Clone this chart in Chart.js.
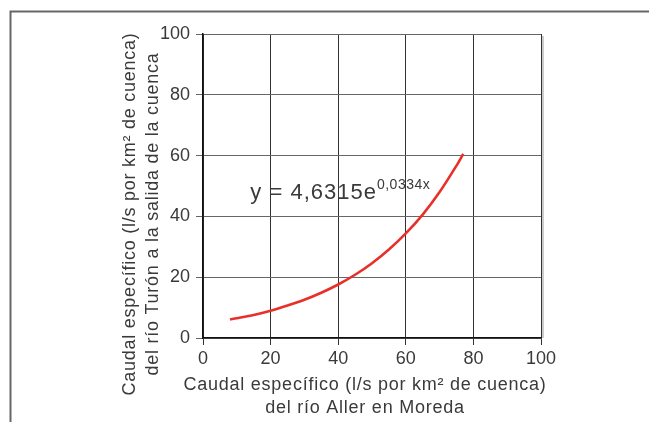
<!DOCTYPE html>
<html>
<head>
<meta charset="utf-8">
<script src="https://cdn.jsdelivr.net/npm/chart.js@4/dist/chart.umd.min.js"></script>
<style>
  html, body { margin: 0; padding: 0; background: #fff; }
  #wrap { width: 649px; height: 422px; position: relative; }
</style>
</head>
<body>
<div id="wrap"><canvas id="myChart" width="649" height="422"></canvas></div>
<script>
'use strict';

// values
let allerFlow = [8, 10, 15, 20, 25, 30, 35, 40, 45, 50, 55, 60, 65, 70, 75, 77];
let turonFlow = [6.1, 6.5, 7.6, 9.0, 10.7, 12.6, 14.9, 17.6, 20.8, 24.6, 29.1, 34.4, 40.6, 48.0, 56.7, 60.6];
let axisTicks = [0, 20, 40, 60, 80, 100];

let xTitle = ['Caudal específico (l/s por km² de cuenca)', 'del río Aller en Moreda'];
let yTitle = ['Caudal específico (l/s por km² de cuenca)', 'del río Turón a la salida de la cuenca'];
let equation = ['y = 4,6315e', '0,0334x'];

let points = [];
for (let i = 0; i < allerFlow.length; i++) {
  points.push({ x: allerFlow[i], y: turonFlow[i] });
}

const fontName = '"Liberation Sans", Arial, sans-serif';

// frame, axis titles and the equation
let extras = {
  id: 'extras',
  afterDraw(chart) {
    let ctx = chart.ctx;
    let area = chart.chartArea;
    ctx.save();

    // figure frame (top and left only)
    ctx.strokeStyle = '#666';
    ctx.lineWidth = 2;
    ctx.beginPath();
    ctx.moveTo(649, 11.5);
    ctx.lineTo(10.5, 11.5);
    ctx.lineTo(10.5, 422);
    ctx.stroke();

    // little shadow right of plot
    ctx.strokeStyle = '#bbb';
    ctx.lineWidth = 1.5;
    ctx.beginPath();
    ctx.moveTo(area.right + 2, area.top + 2);
    ctx.lineTo(area.right + 2, area.bottom);
    ctx.stroke();

    ctx.fillStyle = '#3a3a3a';
    ctx.font = '18px ' + fontName;
    ctx.letterSpacing = '0.75px';
    ctx.textAlign = 'center';
    ctx.textBaseline = 'middle';
    ctx.fillText(xTitle[0], 365, 385);
    ctx.fillText(xTitle[1], 365, 408);

    ctx.save();
    ctx.translate(130, 214);
    ctx.rotate(-Math.PI / 2);
    ctx.fillText(yTitle[0], 0, 0);
    ctx.restore();
    ctx.save();
    ctx.translate(153, 214);
    ctx.rotate(-Math.PI / 2);
    ctx.fillText(yTitle[1], 0, 0);
    ctx.restore();

    // equation text
    let xs = chart.scales.x;
    let ys = chart.scales.y;
    let ex = xs.getPixelForValue(14);
    let ey = ys.getPixelForValue(45.6);
    ctx.textAlign = 'left';
    ctx.textBaseline = 'alphabetic';
    ctx.font = '22px ' + fontName;
    ctx.letterSpacing = '1px';
    ctx.fillText(equation[0], ex, ey);
    let w = ctx.measureText(equation[0]).width;
    ctx.font = '14px ' + fontName;
    ctx.letterSpacing = '0.5px';
    ctx.fillText(equation[1], ex + w, ey - 10);

    ctx.restore();
  }
};

let ctx = document.getElementById('myChart').getContext('2d');
let myChart = new Chart(ctx, {
  type: 'scatter',
  data: {
    datasets: [{
      label: 'ajuste',
      data: points,
      showLine: true,
      borderColor: '#e8302a',
      borderWidth: 2.6,
      pointRadius: 0,
      tension: 0.3,
      fill: false
    }]
  },
  options: {
    responsive: false,
    animation: false,
    layout: { padding: { left: 0, top: 34, right: 108, bottom: 0 } },
    plugins: {
      legend: { display: false },
      tooltip: { enabled: false }
    },
    scales: {
      x: {
        type: 'linear',
        min: 0,
        max: 100,
        afterBuildTicks(scale) {
          scale.ticks = axisTicks.map(v => ({ value: v }));
        },
        afterFit(scale) { scale.height = 84; },
        grid: { color: '#333', lineWidth: 1, tickLength: 7, drawTicks: true },
        border: { color: '#111', width: 1.5 },
        ticks: { color: '#3a3a3a', font: { size: 18, family: fontName }, padding: 3 }
      },
      y: {
        type: 'linear',
        min: 0,
        max: 100,
        afterBuildTicks(scale) {
          scale.ticks = axisTicks.map(v => ({ value: v }));
        },
        afterFit(scale) { scale.width = 203; },
        grid: { color: '#666', lineWidth: 1, tickLength: 7, drawTicks: true },
        border: { color: '#111', width: 1.5 },
        ticks: { color: '#3a3a3a', font: { size: 18, family: fontName }, padding: 6 }
      }
    }
  },
  plugins: [extras]
});
</script>
</body>
</html>
